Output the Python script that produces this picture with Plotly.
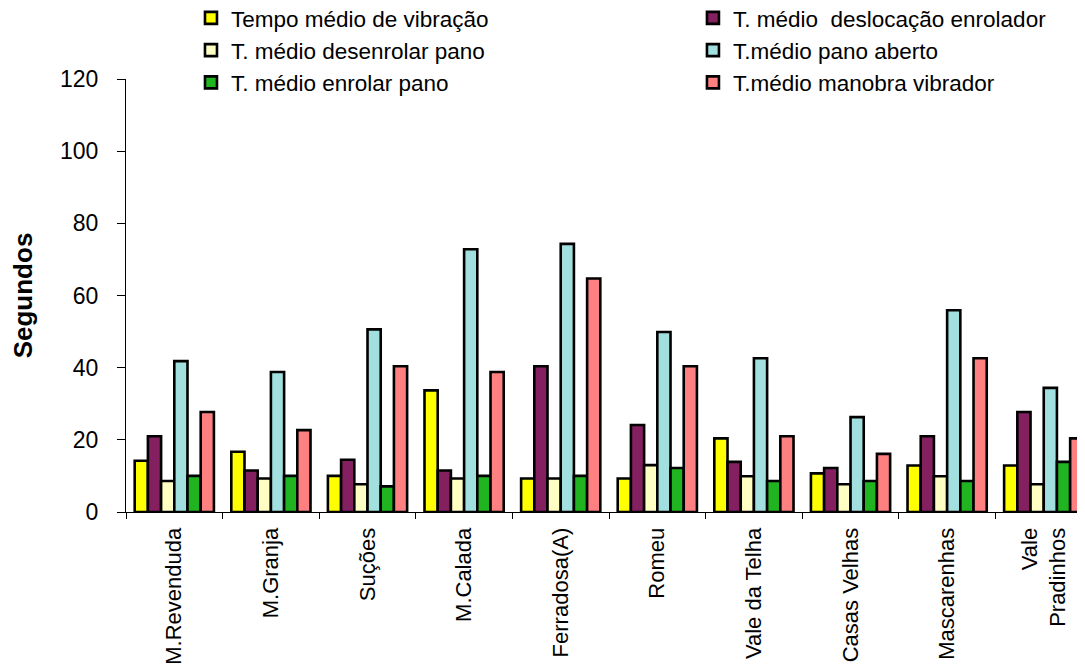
import plotly.graph_objects as go

categories = ["M.Revenduda", "M.Granja", "Suções", "M.Calada", "Ferradosa(A)",
              "Romeu", "Vale da Telha", "Casas Velhas", "Mascarenhas", "Vale<br>Pradinhos"]

vibracao = [14.2, 16.7, 10.0, 33.7, 9.3, 9.3, 20.4, 10.7, 12.9, 12.9]
deslocacao = [21.0, 11.5, 14.5, 11.5, 40.4, 24.1, 13.9, 12.2, 21.0, 27.7]
desenrolar = [8.6, 9.3, 7.7, 9.3, 9.3, 13.0, 9.9, 7.7, 9.9, 7.7]
pano_aberto = [41.8, 38.8, 50.6, 72.8, 74.3, 49.9, 42.6, 26.3, 55.9, 34.4]
enrolar = [10.0, 10.0, 7.1, 10.0, 10.0, 12.2, 8.6, 8.6, 8.6, 13.9]
manobra = [27.7, 22.7, 40.4, 38.8, 64.7, 40.4, 21.0, 16.1, 42.6, 20.4]

# (name, values, colour, legend column)
series = [
    ("Tempo médio de vibração", vibracao, "#FFFF00", "legend"),
    ("T. médio  deslocação enrolador", deslocacao, "#841F60", "legend2"),
    ("T. médio desenrolar pano", desenrolar, "#FFFFC4", "legend"),
    ("T.médio pano aberto", pano_aberto, "#A2DFDF", "legend2"),
    ("T. médio enrolar pano", enrolar, "#20B520", "legend"),
    ("T.médio manobra vibrador", manobra, "#FF8080", "legend2"),
]

FONT = "Liberation Sans, Arial, sans-serif"

fig = go.Figure()
for i, (name, vals, col, leg) in enumerate(series):
    fig.add_trace(go.Bar(
        x=categories, y=vals, name=name, legend=leg, legendgroup=f"g{i}",
        marker=dict(color=col, line=dict(color="black", width=2.6)),
    ))

legend_common = dict(
    orientation="v", yanchor="top", xanchor="left",
    font=dict(family=FONT, size=22.5, color="black"),
    bgcolor="rgba(0,0,0,0)", tracegroupgap=0, itemclick=False,
)

fig.update_layout(
    width=1085, height=670,
    margin=dict(l=118, r=0, t=71, b=166, autoexpand=False),
    paper_bgcolor="white", plot_bgcolor="white",
    barmode="group", bargap=0.18, bargroupgap=0,
    font=dict(family=FONT, color="black", size=22),
    legend=dict(x=0.0672, y=1.19, **legend_common),
    legend2=dict(x=0.5863, y=1.19, **legend_common),
    showlegend=True,
)

fig.update_xaxes(
    type="category", range=[-0.5, 9.51], automargin=False,
    showline=True, linecolor="black", linewidth=1,
    ticks="outside", ticklen=6, tickcolor="black", tickson="boundaries",
    tickangle=-90, ticklabelstandoff=6,
    tickfont=dict(family=FONT, size=22, color="black"),
    showgrid=False, zeroline=False,
)
fig.update_yaxes(
    range=[0, 120], tickvals=[0, 20, 40, 60, 80, 100, 120], automargin=False,
    showline=True, linecolor="black", linewidth=1,
    ticks="outside", ticklen=8, tickcolor="black", ticklabelstandoff=14,
    tickfont=dict(family=FONT, size=23, color="black"),
    showgrid=False, zeroline=False,
    title=dict(text="<b>Segundos</b>", font=dict(family=FONT, size=26, color="black"), standoff=39),
)

fig.write_html("out.html")
